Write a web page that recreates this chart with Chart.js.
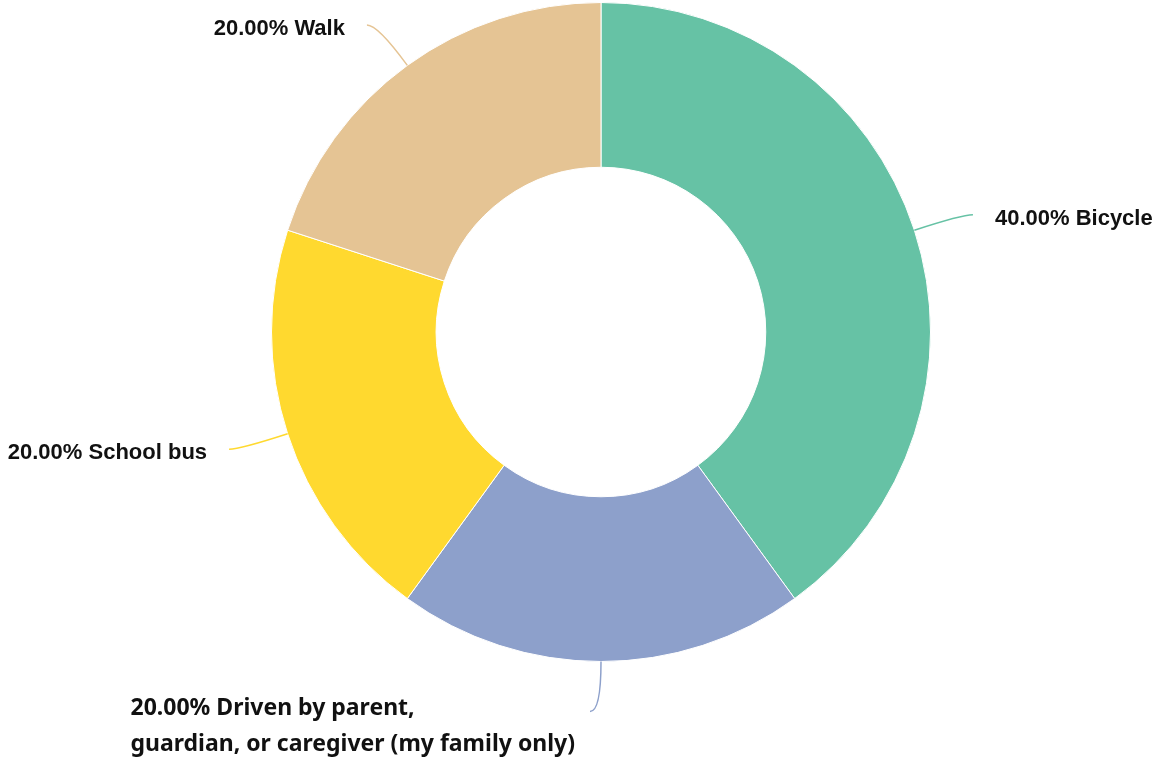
<!DOCTYPE html>
<html>
<head>
<meta charset="utf-8">
<script src="https://cdn.jsdelivr.net/npm/chart.js@4/dist/chart.umd.min.js"></script>
<style>
  html, body { margin: 0; padding: 0; background: #fff; }
  #wrap { width: 1155px; height: 762px; }
</style>
</head>
<body>
<div id="wrap"><canvas id="chart" width="1155" height="762"></canvas></div>
<script>
// categories and values
const categories = ['Bicycle', ['Driven by parent,', 'guardian, or caregiver (my family only)'], 'School bus', 'Walk'];
const shares = [40, 20, 20, 20];
const colors = ['#66c2a5', '#8da0cb', '#ffd92f', '#e5c494'];

// leader lines + outside labels
const outsideLabels = {
  id: 'outsideLabels',
  afterDraw(chart) {
    const ctx = chart.ctx;
    const meta = chart.getDatasetMeta(0);
    const total = shares.reduce((a, b) => a + b, 0);
    meta.data.forEach((arc, i) => {
      const p = arc.getProps(['x', 'y', 'startAngle', 'endAngle', 'outerRadius'], true);
      const mid = (p.startAngle + p.endAngle) / 2;
      const dx = Math.cos(mid), dy = Math.sin(mid);
      const side = dx > 0.05 ? 1 : -1;
      const r = p.outerRadius;
      const sx = p.x + dx * r, sy = p.y + dy * r;
      const cx = p.x + dx * (r + 50), cy = p.y + dy * (r + 50);
      const ex = cx + side * 11, ey = cy;

      ctx.save();
      ctx.strokeStyle = colors[i];
      ctx.lineWidth = 1.5;
      ctx.beginPath();
      ctx.moveTo(sx, sy);
      ctx.quadraticCurveTo(cx, cy, ex, ey);
      ctx.stroke();

      const pct = (shares[i] / total * 100).toFixed(2) + '% ';
      const lines = Array.isArray(categories[i]) ? categories[i].slice() : [categories[i]];
      lines[0] = pct + lines[0];
      const multi = lines.length > 1;
      ctx.font = multi ? 'bold 23px "Noto Sans"' : 'bold 22px "Liberation Sans", Arial';
      ctx.fillStyle = '#111';
      ctx.textBaseline = 'middle';
      const gap = 22;
      if (multi) {
        const w = Math.max(...lines.map(l => ctx.measureText(l).width));
        ctx.textAlign = 'left';
        const lx = ex - 15 - w;
        lines.forEach((l, k) => ctx.fillText(l, lx, ey - 3 + k * 36));
      } else {
        ctx.textAlign = side > 0 ? 'left' : 'right';
        ctx.fillText(lines[0], ex + side * gap, ey + 4);
      }
      ctx.restore();
    });
  }
};

new Chart(document.getElementById('chart'), {
  type: 'doughnut',
  data: {
    labels: categories,
    datasets: [{
      data: shares,
      backgroundColor: colors,
      borderColor: '#ffffff',
      borderWidth: 1
    }]
  },
  options: {
    responsive: false,
    animation: false,
    cutout: '50%',
    layout: { padding: { top: 2, bottom: 100, left: 200, right: 153 } },
    plugins: {
      legend: { display: false },
      tooltip: { enabled: false }
    }
  },
  plugins: [outsideLabels]
});
</script>
</body>
</html>
